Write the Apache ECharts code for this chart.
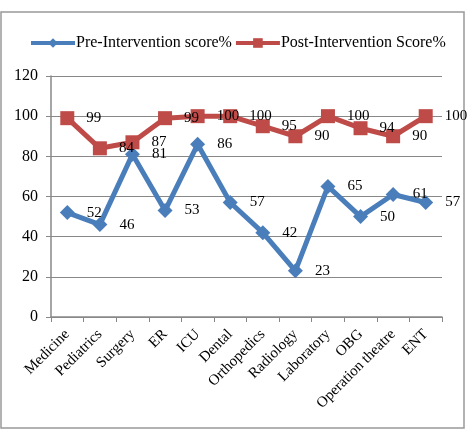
<!DOCTYPE html>
<html>
<head>
<meta charset="utf-8">
<script src="https://cdn.jsdelivr.net/npm/echarts@6/dist/echarts.min.js"></script>
<style>
  html, body { margin: 0; padding: 0; background: #fff; }
  #chart { width: 469px; height: 430px; }
</style>
</head>
<body>
<div id="chart"></div>
<script>
// departments along the x axis
const departments = ['Medicine', 'Pediatrics', 'Surgery', 'ER', 'ICU', 'Dental',
  'Orthopedics', 'Radiology', 'Laboratory', 'OBG', 'Operation theatre', 'ENT']
// scores
const preScores = [52, 46, 81, 53, 86, 57, 42, 23, 65, 50, 61, 57]
const postScores = [99, 84, 87, 99, 100, 100, 95, 90, 100, 94, 90, 100]
const seriesNames = ['Pre-Intervention score%', 'Post-Intervention Score%']

const serif = '"Liberation Serif", "DejaVu Serif", serif'
const axisGray = '#888888'

const chart = echarts.init(document.getElementById('chart'))

chart.setOption({
  animation: false,
  backgroundColor: '#fff',
  textStyle: { fontFamily: serif },
  graphic: [{
    type: 'rect',
    shape: { x: 1, y: 12, width: 463, height: 416 },
    style: { fill: 'none', stroke: '#999', lineWidth: 1.5 },
    silent: true
  }],
  legend: {
    top: 30,
    left: 24,
    itemWidth: 44,
    itemHeight: 12,
    itemGap: 2,
    lineStyle: { width: 4 },
    textStyle: { fontFamily: serif, fontSize: 16, color: '#000', padding: [0, 0, 0, -4] },
    data: seriesNames
  },
  grid: {
    left: 51,
    right: 27,
    top: 76,
    bottom: 113,
    containLabel: false
  },
  xAxis: {
    type: 'category',
    data: departments,
    boundaryGap: true,
    axisLine: { lineStyle: { color: axisGray, width: 1.5 } },
    axisTick: { show: true, length: 5, lineStyle: { color: axisGray } },
    axisLabel: {
      rotate: 45,
      interval: 0,
      margin: 15,
      fontFamily: serif,
      fontSize: 15,
      color: '#000'
    }
  },
  yAxis: {
    type: 'value',
    min: 0,
    max: 120,
    interval: 20,
    axisLine: { show: true, lineStyle: { color: axisGray, width: 1.5 } },
    axisTick: { show: true, inside: false, length: 5, lineStyle: { color: axisGray } },
    splitLine: { lineStyle: { color: axisGray, width: 1.2 } },
    axisLabel: { fontFamily: serif, fontSize: 16, color: '#000', margin: 13 }
  },
  series: [
    {
      name: seriesNames[0],
      type: 'line',
      data: preScores,
      symbol: 'diamond',
      symbolSize: 15,
      color: '#4A7EBB',
      lineStyle: { width: 5, color: '#4A7EBB' },
      itemStyle: { color: '#4A7EBB' },
      label: {
        show: true,
        position: 'right',
        distance: 12,
        fontFamily: serif,
        fontSize: 15,
        color: '#000'
      }
    },
    {
      name: seriesNames[1],
      type: 'line',
      data: postScores,
      symbol: 'rect',
      symbolSize: 14,
      color: '#BE4B48',
      lineStyle: { width: 5, color: '#BE4B48' },
      itemStyle: { color: '#BE4B48' },
      label: {
        show: true,
        position: 'right',
        distance: 12,
        fontFamily: serif,
        fontSize: 15,
        color: '#000'
      }
    }
  ]
})
</script>
</body>
</html>
